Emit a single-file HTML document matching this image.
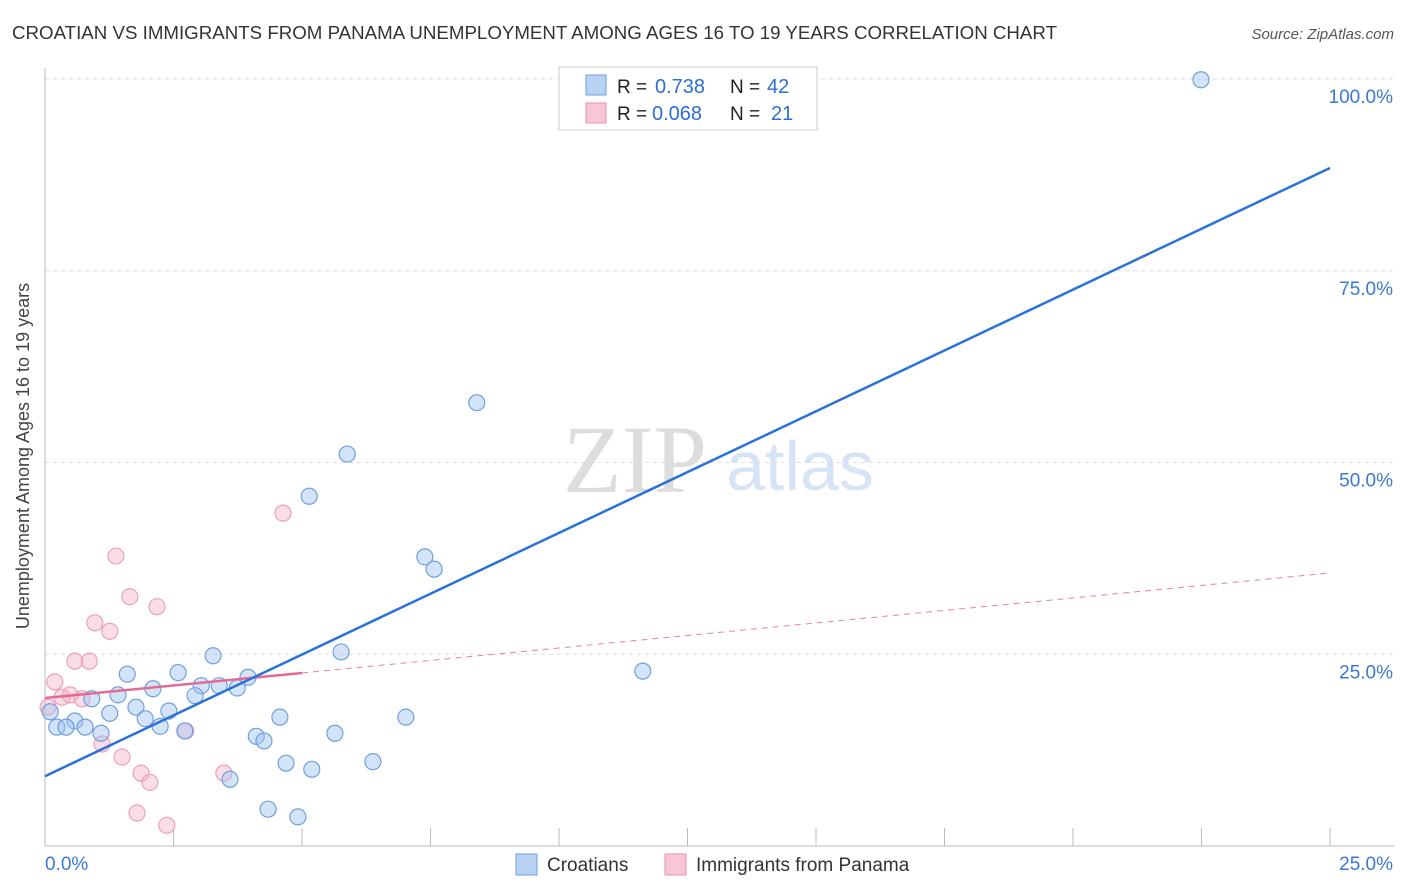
<!DOCTYPE html>
<html><head><meta charset="utf-8"><style>
body{margin:0;background:#fff;font-family:"Liberation Sans",sans-serif;}
#wrap{position:relative;width:1406px;height:892px;overflow:hidden}
</style></head><body>
<div id="wrap">
<svg id="svg" width="1406" height="892" xmlns="http://www.w3.org/2000/svg">
<text x="12" y="39" font-size="18" fill="#333" textLength="1045" lengthAdjust="spacingAndGlyphs">CROATIAN VS IMMIGRANTS FROM PANAMA UNEMPLOYMENT AMONG AGES 16 TO 19 YEARS CORRELATION CHART</text>
<text x="1394" y="39" font-size="15" fill="#555" font-style="italic" text-anchor="end">Source: ZipAtlas.com</text>
<text x="29" y="456" font-size="18" fill="#444" text-anchor="middle" transform="rotate(-90 29 456)">Unemployment Among Ages 16 to 19 years</text>
<text x="635" y="492" font-size="96" fill="#ddd" font-family="Liberation Serif,serif" text-anchor="middle">ZIP</text>
<text x="800" y="490" font-size="70" fill="#d6e4f5" text-anchor="middle">atlas</text>
<g id="grid"></g><g id="marks"></g>
<g>
<rect x="559" y="67" width="258" height="63" fill="#fff" stroke="#ccc"/>
<rect x="586" y="75" width="20" height="20" fill="#b8d2f4" stroke="#6fa0dd"/>
<rect x="586" y="103" width="20" height="20" fill="#f8c6d6" stroke="#e890b0"/>
<text x="617" y="93" font-size="19" fill="#222">R =</text>
<text x="655" y="93" font-size="20" fill="#2a6fd6">0.738</text>
<text x="730" y="93" font-size="19" fill="#222">N =</text>
<text x="767" y="93" font-size="20" fill="#2a6fd6">42</text>
<text x="617" y="120" font-size="19" fill="#222">R =</text>
<text x="652" y="120" font-size="20" fill="#2a6fd6">0.068</text>
<text x="730" y="120" font-size="19" fill="#222">N =</text>
<text x="771" y="120" font-size="20" fill="#2a6fd6">21</text>
</g>
<g>
<rect x="516" y="854" width="21" height="21" fill="#b8d2f4" stroke="#6fa0dd"/>
<text x="547" y="871" font-size="19" fill="#333">Croatians</text>
<rect x="665" y="854" width="21" height="21" fill="#f8c6d6" stroke="#e890b0"/>
<text x="696" y="871" font-size="19" fill="#333">Immigrants from Panama</text>
</g>
</svg>
</div>
<script>
const xTickVals=[0,2.5,5,7.5,10,12.5,15,17.5,20,22.5,25];
const yTickVals=[25,50,75,100];
const yTickLabels=["25.0%","50.0%","75.0%","100.0%"];
const blueX=[22.49,8.40,5.88,5.14,7.39,7.57,11.63,5.76,3.27,1.60,2.59,3.95,2.10,3.04,3.39,3.74,1.42,2.92,0.91,1.77,1.26,2.41,1.95,4.57,7.02,0.58,2.24,0.23,0.41,0.78,1.09,2.72,4.11,5.64,4.26,4.69,6.38,5.19,3.60,4.34,4.92,0.10];
const blueY=[99.9,57.8,51.1,45.6,37.7,36.1,22.8,25.3,24.8,22.4,22.6,22.0,20.5,20.9,20.9,20.6,19.7,19.6,19.2,18.1,17.3,17.6,16.6,16.8,16.8,16.3,15.6,15.5,15.5,15.5,14.7,15.0,14.3,14.7,13.7,10.8,11.0,10.0,8.7,4.8,3.8,17.5];
const pinkX=[4.63,1.38,1.65,2.18,0.97,1.26,0.58,0.86,0.19,0.33,0.49,0.72,0.06,1.11,1.50,2.74,1.87,2.04,3.48,1.79,2.37];
const pinkY=[43.4,37.8,32.5,31.2,29.1,28.0,24.1,24.1,21.4,19.4,19.7,19.2,18.1,13.3,11.6,15.0,9.5,8.3,9.5,4.3,2.7];
const blueLine=[9.1,88.4];
const pinkLine=[19.3,35.6];
const pinkSolidEnd=5;
const NS="http://www.w3.org/2000/svg";
const sx=v=>45+v*51.4, sy=v=>846-v*7.67;
function mk(tag,at,parent){const e=document.createElementNS(NS,tag);for(const k in at)e.setAttribute(k,at[k]);parent.appendChild(e);return e;}
const grid=document.getElementById('grid'), marks=document.getElementById('marks');
yTickVals.forEach((v,i)=>{
 const l=mk('line',{x1:45,x2:1394,y1:sy(v),y2:sy(v),stroke:'#ddd','stroke-dasharray':'4,4'},grid);
 
 
 const t=mk('text',{x:1393,y:sy(v)+24,'font-size':19,fill:'#3a78d6','text-anchor':'end'},grid);t.textContent=yTickLabels[i];
 
 
});
mk('line',{x1:45,x2:45,y1:68,y2:846,stroke:'#bbb'},grid);
mk('line',{x1:45,x2:1394,y1:846,y2:846,stroke:'#bbb'},grid);
xTickVals.forEach(v=>{const l=mk('line',{x1:sx(v),x2:sx(v),y1:828,y2:846,stroke:'#bbb'},grid);
 
 });
let t=mk('text',{x:45,y:870,'font-size':19,fill:'#3a78d6'},grid);t.textContent='0.0%';


t=mk('text',{x:1393,y:870,'font-size':19,fill:'#3a78d6','text-anchor':'end'},grid);t.textContent='25.0%';


pinkX.forEach((x,i)=>{const c=mk('circle',{cx:sx(x),cy:sy(pinkY[i]),r:8,fill:'rgba(245,170,195,0.4)',stroke:'#eba0bb','stroke-width':1.2},marks);
 
 });
blueX.forEach((x,i)=>{const c=mk('circle',{cx:sx(x),cy:sy(blueY[i]),r:8,fill:'rgba(160,195,240,0.45)',stroke:'#6fa0dd','stroke-width':1.2},marks);
 
 });
const pAt=x=>pinkLine[0]+(pinkLine[1]-pinkLine[0])*x/25;
let l=mk('line',{x1:sx(pinkSolidEnd),y1:sy(pAt(pinkSolidEnd)),x2:sx(25),y2:sy(pAt(25)),stroke:'#e77fa3','stroke-width':1,'stroke-dasharray':'6,5'},marks);


l=mk('line',{x1:sx(0),y1:sy(pAt(0)),x2:sx(pinkSolidEnd),y2:sy(pAt(pinkSolidEnd)),stroke:'#e36a95','stroke-width':2.5},marks);


l=mk('line',{x1:sx(0),y1:sy(blueLine[0]),x2:sx(25),y2:sy(blueLine[1]),stroke:'#2a72d8','stroke-width':2.5},marks);


</script>
</body></html>
